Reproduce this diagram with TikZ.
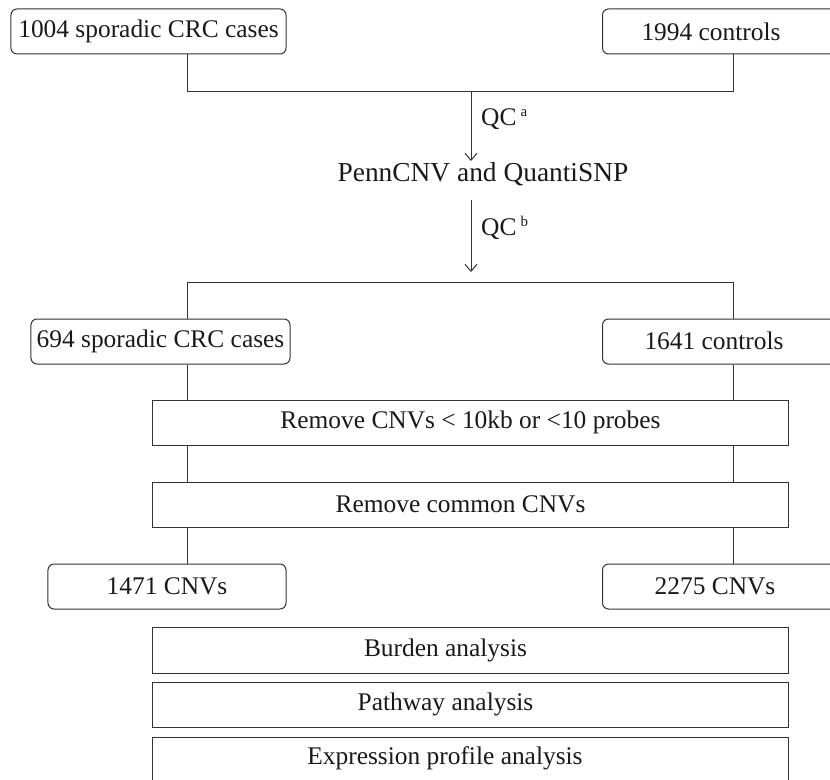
\documentclass[tikz,border=0pt]{standalone}
\usepackage{fontspec}
\setmainfont{Liberation Serif}
\usetikzlibrary{arrows.meta}
\begin{document}
\begin{tikzpicture}[x=1bp,y=-1bp,
  every node/.style={font=\fontsize{25.5}{30}\selectfont, text=black!90},
  rbox/.style={draw=black!80, line width=1bp, rounded corners=6bp, inner sep=0pt},
  sbox/.style={draw=black!80, line width=1bp, inner sep=0pt, minimum width=635bp, minimum height=45bp},
  conn/.style={draw=black!80, line width=1bp},
  arr/.style={conn, -{Straight Barb[length=7bp, width=12bp, line width=1bp]}},
  lbl/.style={inner sep=0pt},
  supa/.style={}]
\useasboundingbox (0,0) rectangle (830,780);
\clip (0,0) rectangle (830,780);
% top boxes
\node[rbox, minimum width=275bp, minimum height=45bp] (cases1) at (148.5,31.5) {1004 sporadic CRC cases};
\node[rbox, minimum width=258bp, minimum height=45bp, anchor=west] (ctrl1) at (602,31.5) {};
\node[lbl] (ctrl1t) at (711,31.5) {1994 controls};
\coordinate (j1l) at (187,91);
\coordinate (j1r) at (733,91);
\coordinate (j1m) at (471,91);
\draw[conn] (cases1.south -| j1l) -- (j1l) -- (j1r) -- (ctrl1.south -| j1r);
\node[lbl, font=\fontsize{27.5}{32}\selectfont] (penn) at (483,174) {PennCNV and QuantiSNP};
\coordinate (a1e) at (471,161);
\draw[arr] (j1m) -- (a1e);
\node[lbl, anchor=west] (qca) at (481,119) {QC\,\raisebox{0.75ex}{\fontsize{15}{17}\selectfont a}};
\coordinate (j2l) at (187,282);
\coordinate (j2r) at (733,282);
\coordinate (a2s) at (471,200);
\coordinate (a2e) at (471,272);
\draw[arr] (a2s) -- (a2e);
\node[lbl, anchor=west] (qcb) at (481,228) {QC\,\raisebox{0.75ex}{\fontsize{15}{17}\selectfont b}};
% second row
\node[rbox, minimum width=259bp, minimum height=45bp] (cases2) at (160.5,341.5) {694 sporadic CRC cases};
\node[rbox, minimum width=258bp, minimum height=45bp, anchor=west] (ctrl2) at (602,341.5) {};
\node[lbl] (ctrl2t) at (714,341) {1641 controls};
\draw[conn] (cases2.north -| j2l) -- (j2l) -- (j2r) -- (ctrl2.north -| j2r);
% filter boxes
\node[sbox] (rm1) at (470.5,422.5) {Remove CNVs < 10kb or <10 probes};
\node[sbox] (rm2) at (470.5,504.5) {Remove common CNVs\hspace*{20bp}};
% result boxes
\node[rbox, minimum width=238bp, minimum height=45bp] (cnv1) at (167,586.5) {1471 CNVs};
\node[rbox, minimum width=258bp, minimum height=45bp, anchor=west] (cnv2) at (602,586.5) {};
\node[lbl] (cnv2t) at (715,586) {2275 CNVs};
% vertical connectors
\draw[conn] (cases2.south -| j2l) -- (rm1.north -| j2l);
\draw[conn] (rm1.south -| j2l) -- (rm2.north -| j2l);
\draw[conn] (rm2.south -| j2l) -- (cnv1.north -| j2l);
\draw[conn] (ctrl2.south -| j2r) -- (rm1.north -| j2r);
\draw[conn] (rm1.south -| j2r) -- (rm2.north -| j2r);
\draw[conn] (rm2.south -| j2r) -- (cnv2.north -| j2r);
% analysis boxes
\node[sbox, minimum height=46bp] (burden) at (470.5,650) {Burden analysis\hspace*{50bp}};
\node[sbox, minimum height=45bp] (path) at (470.5,704.5) {Pathway analysis\hspace*{50bp}};
\node[sbox, minimum height=60bp, anchor=north] (expr) at (470.5,737) {};
\node[lbl] (exprt) at (445,758) {Expression profile analysis};
\end{tikzpicture}
\end{document}
